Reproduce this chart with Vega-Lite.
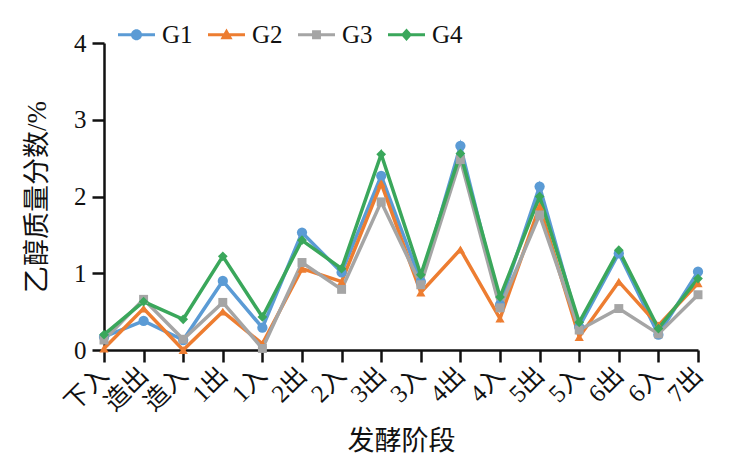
{
  "$schema": "https://vega.github.io/schema/vega-lite/v6.json",
  "width": 594,
  "height": 307,
  "autosize": {"type": "none"},
  "padding": {"left": 104, "top": 43, "right": 33, "bottom": 119},
  "config": {
    "view": {"stroke": null},
    "font": "Liberation Serif, Noto Sans CJK SC",
    "axis": {
      "domainColor": "#111111",
      "domainWidth": 2.5,
      "tickColor": "#111111",
      "tickWidth": 2.5,
      "grid": false,
      "labelColor": "#111111",
      "titleColor": "#111111",
      "labelFont": "Liberation Serif, Noto Sans CJK SC",
      "titleFont": "Liberation Serif, Noto Sans CJK SC",
      "titleFontWeight": "normal",
      "labelOverlap": false
    }
  },
  "data": {
    "values": [
      {"stage": "下入", "group": "G1", "value": 0.17},
      {"stage": "造出", "group": "G1", "value": 0.38},
      {"stage": "造入", "group": "G1", "value": 0.13},
      {"stage": "1出", "group": "G1", "value": 0.90},
      {"stage": "1入", "group": "G1", "value": 0.29},
      {"stage": "2出", "group": "G1", "value": 1.53},
      {"stage": "2入", "group": "G1", "value": 1.01},
      {"stage": "3出", "group": "G1", "value": 2.27},
      {"stage": "3入", "group": "G1", "value": 0.89},
      {"stage": "4出", "group": "G1", "value": 2.66},
      {"stage": "4入", "group": "G1", "value": 0.59},
      {"stage": "5出", "group": "G1", "value": 2.13},
      {"stage": "5入", "group": "G1", "value": 0.30},
      {"stage": "6出", "group": "G1", "value": 1.26},
      {"stage": "6入", "group": "G1", "value": 0.20},
      {"stage": "7出", "group": "G1", "value": 1.02},

      {"stage": "下入", "group": "G2", "value": 0.02},
      {"stage": "造出", "group": "G2", "value": 0.54},
      {"stage": "造入", "group": "G2", "value": 0.00},
      {"stage": "1出", "group": "G2", "value": 0.50},
      {"stage": "1入", "group": "G2", "value": 0.08},
      {"stage": "2出", "group": "G2", "value": 1.06},
      {"stage": "2入", "group": "G2", "value": 0.89},
      {"stage": "3出", "group": "G2", "value": 2.17},
      {"stage": "3入", "group": "G2", "value": 0.75},
      {"stage": "4出", "group": "G2", "value": 1.31},
      {"stage": "4入", "group": "G2", "value": 0.41},
      {"stage": "5出", "group": "G2", "value": 1.87},
      {"stage": "5入", "group": "G2", "value": 0.17},
      {"stage": "6出", "group": "G2", "value": 0.89},
      {"stage": "6入", "group": "G2", "value": 0.32},
      {"stage": "7出", "group": "G2", "value": 0.87},

      {"stage": "下入", "group": "G3", "value": 0.13},
      {"stage": "造出", "group": "G3", "value": 0.66},
      {"stage": "造入", "group": "G3", "value": 0.14},
      {"stage": "1出", "group": "G3", "value": 0.62},
      {"stage": "1入", "group": "G3", "value": 0.02},
      {"stage": "2出", "group": "G3", "value": 1.14},
      {"stage": "2入", "group": "G3", "value": 0.79},
      {"stage": "3出", "group": "G3", "value": 1.93},
      {"stage": "3入", "group": "G3", "value": 0.85},
      {"stage": "4出", "group": "G3", "value": 2.48},
      {"stage": "4入", "group": "G3", "value": 0.55},
      {"stage": "5出", "group": "G3", "value": 1.76},
      {"stage": "5入", "group": "G3", "value": 0.26},
      {"stage": "6出", "group": "G3", "value": 0.54},
      {"stage": "6入", "group": "G3", "value": 0.21},
      {"stage": "7出", "group": "G3", "value": 0.72},

      {"stage": "下入", "group": "G4", "value": 0.20},
      {"stage": "造出", "group": "G4", "value": 0.63},
      {"stage": "造入", "group": "G4", "value": 0.40},
      {"stage": "1出", "group": "G4", "value": 1.22},
      {"stage": "1入", "group": "G4", "value": 0.43},
      {"stage": "2出", "group": "G4", "value": 1.43},
      {"stage": "2入", "group": "G4", "value": 1.06},
      {"stage": "3出", "group": "G4", "value": 2.55},
      {"stage": "3入", "group": "G4", "value": 0.98},
      {"stage": "4出", "group": "G4", "value": 2.56},
      {"stage": "4入", "group": "G4", "value": 0.69},
      {"stage": "5出", "group": "G4", "value": 2.00},
      {"stage": "5入", "group": "G4", "value": 0.36},
      {"stage": "6出", "group": "G4", "value": 1.30},
      {"stage": "6入", "group": "G4", "value": 0.28},
      {"stage": "7出", "group": "G4", "value": 0.93}
    ]
  },
  "encoding": {
    "x": {
      "field": "stage",
      "type": "ordinal",
      "sort": null,
      "scale": {"type": "point", "padding": 0},
      "axis": {
        "title": "发酵阶段",
        "titleFontSize": 27,
        "titlePadding": 13,
        "labelFontSize": 25,
        "labelAngle": -45,
        "labelAlign": "right",
        "labelBaseline": "middle",
        "labelPadding": 9,
        "tickSize": 12
      }
    },
    "y": {
      "field": "value",
      "type": "quantitative",
      "scale": {"domain": [0, 4], "nice": false},
      "axis": {
        "title": "乙醇质量分数/%",
        "titleFontSize": 27,
        "titlePadding": 22,
        "labelFontSize": 25,
        "values": [0, 1, 2, 3, 4],
        "tickSize": 12,
        "labelPadding": 6
      }
    },
    "color": {
      "field": "group",
      "type": "nominal",
      "scale": {
        "domain": ["G1", "G2", "G3", "G4"],
        "range": ["#5B9BD5", "#ED7D31", "#A5A5A5", "#3AA75B"]
      },
      "legend": {
        "title": null,
        "orient": "none",
        "direction": "horizontal",
        "legendX": 14,
        "legendY": -27,
        "padding": 0,
        "symbolSize": 1369,
        "labelFontSize": 25,
        "labelFont": "Liberation Serif",
        "labelColor": "#111111",
        "labelOffset": 7,
        "columnPadding": 15,
        "encode": {
          "symbols": {
            "update": {
              "shape": {
                "signal": "datum.value === 'G1' ? 'M-1,-0.08H1V0.08H-1Z M-0.3,0A0.3,0.3 0 1,1 0.3,0A0.3,0.3 0 1,1 -0.3,0Z' : datum.value === 'G2' ? 'M-1,-0.08H1V0.08H-1Z M0,-0.34L0.33,0.24L-0.33,0.24Z' : datum.value === 'G3' ? 'M-1,-0.08H1V0.08H-1Z M-0.24,-0.24H0.24V0.24H-0.24Z' : 'M-1,-0.08H1V0.08H-1Z M0,-0.34L0.3,0L0,0.34L-0.3,0Z'"
              },
              "fill": {"scale": "color", "field": "value"},
              "fillOpacity": {"value": 1},
              "strokeWidth": {"value": 0},
              "opacity": {"value": 1}
            }
          }
        }
      }
    }
  },
  "layer": [
    {
      "mark": {"type": "line", "strokeWidth": 3.5}
    },
    {
      "transform": [{"filter": "datum.group === 'G1'"}],
      "mark": {"type": "point", "shape": "circle", "filled": true, "opacity": 1, "size": 105}
    },
    {
      "transform": [{"filter": "datum.group === 'G2'"}],
      "mark": {"type": "point", "shape": "triangle-up", "filled": true, "opacity": 1, "size": 85}
    },
    {
      "transform": [{"filter": "datum.group === 'G3'"}],
      "mark": {"type": "point", "shape": "square", "filled": true, "opacity": 1, "size": 80}
    },
    {
      "transform": [{"filter": "datum.group === 'G4'"}],
      "mark": {"type": "point", "shape": "diamond", "filled": true, "opacity": 1, "size": 95}
    }
  ]
}
